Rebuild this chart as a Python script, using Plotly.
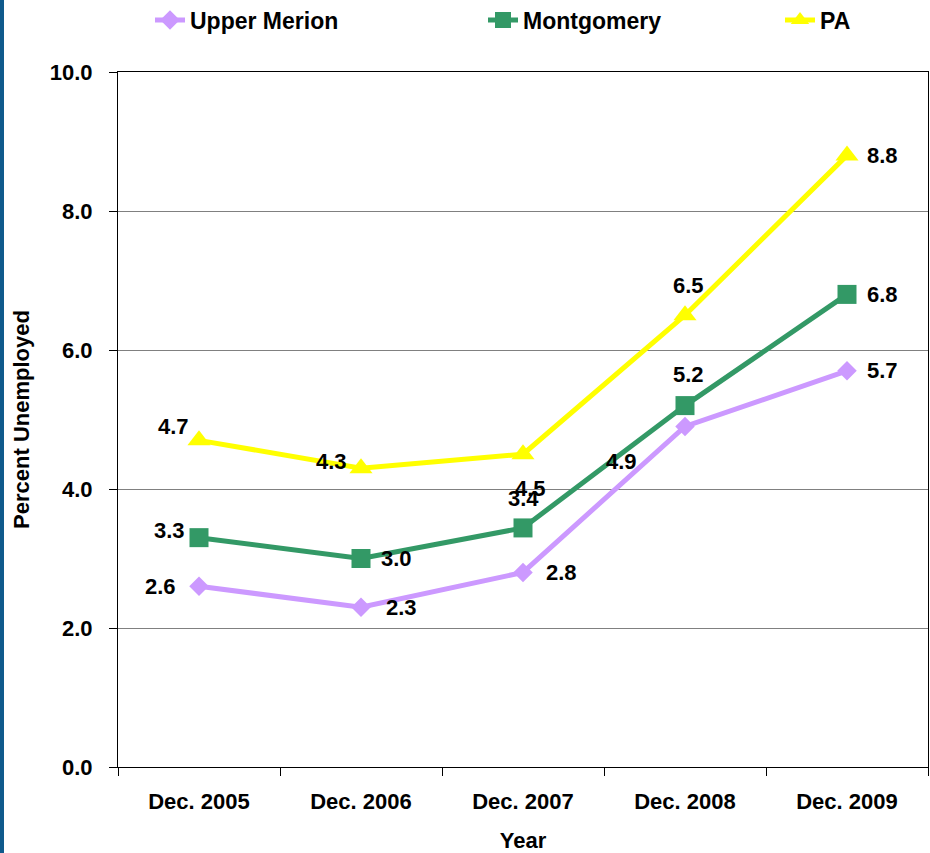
import plotly.graph_objects as go

years = ["Dec. 2005", "Dec. 2006", "Dec. 2007", "Dec. 2008", "Dec. 2009"]
upper_merion = [2.6, 2.3, 2.8, 4.9, 5.7]
montgomery = [3.3, 3.0, 3.44, 5.2, 6.8]
pa = [4.7, 4.3, 4.5, 6.5, 8.8]
label_um = ["2.6", "2.3", "2.8", "4.9", "5.7"]
label_mo = ["3.3", "3.0", "3.4", "5.2", "6.8"]
label_pa = ["4.7", "4.3", "4.5", "6.5", "8.8"]
y_ticks = [0, 2, 4, 6, 8, 10]
y_tick_text = ["0.0", "2.0", "4.0", "6.0", "8.0", "10.0"]

# label offsets (px) for data labels
off_um = [(-39, 0), (40, 0), (38, 0), (-64, -35), (35, 0)]
off_mo = [(-30, 7), (35, 0), (0, 29), (3, 31), (35, 0)]
off_pa = [(-26, 14), (-30, 7), (7, -34), (3, 30), (35, 0)]

FONT = "Arial, Liberation Sans, sans-serif"
FS = 22
PW, PH, ML, MT = 810, 695, 118, 72

fig = go.Figure()
series = [
    ("Upper Merion", upper_merion, label_um, off_um, "#CC99FF", "diamond", 15, "legend", 150),
    ("Montgomery", montgomery, label_mo, off_mo, "#339966", "square", 19, "legend2", 483),
    ("PA", pa, label_pa, off_pa, "#FFFF00", "triangle-up", 20, "legend3", 780),
]
legends = {}
for name, vals, labels, offs, color, sym, size, leg, lx in series:
    fig.add_trace(go.Scatter(
        x=years, y=vals, name=name, mode="lines+markers",
        line=dict(color=color, width=5),
        marker=dict(symbol=sym, size=size, color=color),
        legend=leg,
    ))
    legends[leg] = dict(
        orientation="h", x=(lx - ML) / PW, xanchor="left",
        y=1 + (MT - 20) / PH, yanchor="middle",
        bgcolor="rgba(0,0,0,0)",
        font=dict(family=FONT, size=23, color="black", weight="bold"),
    )
    for xv, yv, t, (dx, dy) in zip(years, vals, labels, offs):
        fig.add_annotation(x=xv, y=yv, text=t, showarrow=False,
                           xshift=dx, yshift=dy,
                           font=dict(family=FONT, size=FS, color="black", weight="bold"))

# left blue border strip
fig.add_shape(type="rect", xref="paper", yref="paper",
              x0=-ML / PW, x1=(4 - ML) / PW, y0=-86 / PH, y1=1 + MT / PH,
              fillcolor="#0F5A8C", line=dict(width=0), layer="above")

fig.update_layout(
    width=930, height=853,
    margin=dict(l=ML, r=2, t=MT, b=86, autoexpand=False),
    paper_bgcolor="white", plot_bgcolor="white",
    font=dict(family=FONT, size=FS, color="black"),
    showlegend=True,
    legend=legends["legend"], legend2=legends["legend2"], legend3=legends["legend3"],
    xaxis=dict(
        type="category", range=[-0.5, 4.5],
        tickson="boundaries", ticks="outside", ticklen=8, tickcolor="black",
        showline=True, linecolor="black", linewidth=1, mirror=True,
        showgrid=False, ticklabelstandoff=15,
        tickfont=dict(family=FONT, size=FS, color="black", weight="bold"),
        title=dict(text="Year", font=dict(family=FONT, size=FS, color="black", weight="bold"),
                   standoff=21),
    ),
    yaxis=dict(
        range=[0, 10], tickvals=y_ticks, ticktext=y_tick_text,
        ticks="outside", ticklen=8, tickcolor="black",
        showline=True, linecolor="black", linewidth=1, mirror=True,
        showgrid=True, gridcolor="#808080", gridwidth=1,
        zeroline=False, ticklabelstandoff=12,
        tickfont=dict(family=FONT, size=FS, color="black", weight="bold"),
        title=dict(text="Percent Unemployed",
                   font=dict(family=FONT, size=FS, color="black", weight="bold"),
                   standoff=14),
    ),
)

fig.write_html("out.html", config={"displayModeBar": False},
               post_script="document.body.style.margin='0';document.body.style.overflow='hidden';")
